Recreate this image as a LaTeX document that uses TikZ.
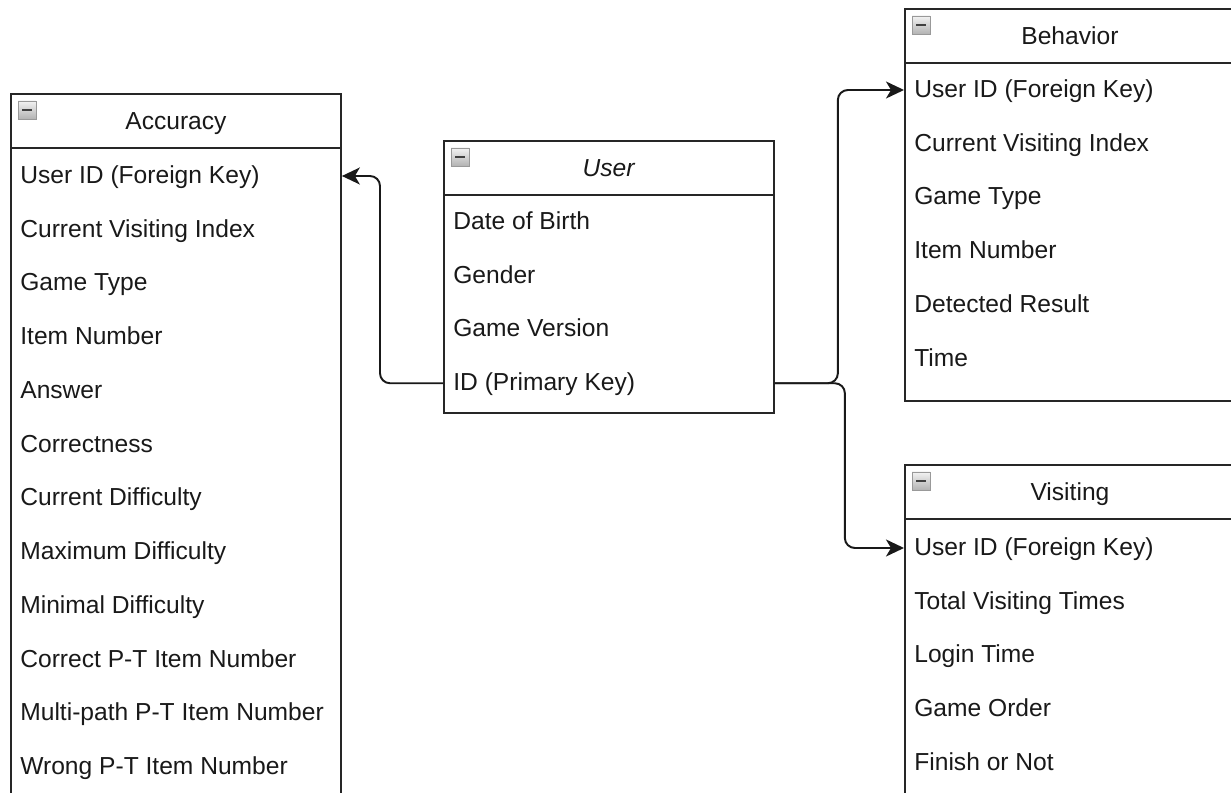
\documentclass[tikz,border=0pt]{standalone}
\usepackage{fontspec}
\setmainfont{Liberation Sans}
\usetikzlibrary{arrows.meta,shadings}

\begin{document}
\begin{tikzpicture}[x=0.02cm,y=-0.02cm,
	head/.style={draw=black!85,line width=1.1pt,rectangle,anchor=north west,inner sep=0,minimum width=6.6cm,minimum height=1.08cm,text height=0.96em,text depth=0pt,font=\fontsize{14}{16}\selectfont,text=black!90},
	body/.style={draw=black!85,line width=1.1pt,rectangle,anchor=north west,inner sep=0,minimum width=6.6cm},
	field/.style={anchor=west,inner sep=0,text height=0.716em,text depth=0pt,font=\fontsize{14}{16}\selectfont,text=black!90},
	fold/.style={draw=gray!80,line width=0.5pt,top color=gray!10,bottom color=gray!60,inner sep=0,minimum size=0.36cm},
	link/.style={line width=1.1pt,draw=black!90,rounded corners=0.2cm,-{Stealth[length=0.36cm,width=0.34cm,inset=0.1cm]}}]
	\useasboundingbox (0,0) rectangle (1231,793);
	\clip (0,0) rectangle (1231,793);

	% Accuracy
	\node (accbody) [body,minimum height=14cm] at (10,147) {};
	\node (acchead) [head] at (10,93) {Accuracy};
	\node (accfold) [fold] at (27,110) {\color{black!75}\rule{0.2cm}{0.05cm}};
	\foreach \t [count=\i] in {User ID (Foreign Key),Current Visiting Index,Game Type,Item Number,Answer,Correctness,Current Difficulty,Maximum Difficulty,Minimal Difficulty,Correct P-T Item Number,Multi-path P-T Item Number,Wrong P-T Item Number}
		\node (acc\i) [field] at (20,177+53.75*\i-53.75) {\t};

	% User
	\node (usrbody) [body,minimum height=4.36cm] at (443,194) {};
	\node (usrhead) [head] at (443,140) {\textit{User}};
	\node (usrfold) [fold] at (460,157) {\color{black!75}\rule{0.2cm}{0.05cm}};
	\foreach \t [count=\i] in {Date of Birth,Gender,Game Version,ID (Primary Key)}
		\node (usr\i) [field] at (453,223+53.75*\i-53.75) {\t};

	% Behavior
	\node (behbody) [body,minimum height=6.76cm] at (904,62) {};
	\node (behhead) [head] at (904,8) {Behavior};
	\node (behfold) [fold] at (921,25) {\color{black!75}\rule{0.2cm}{0.05cm}};
	\foreach \t [count=\i] in {User ID (Foreign Key),Current Visiting Index,Game Type,Item Number,Detected Result,Time}
		\node (beh\i) [field] at (914,91+53.75*\i-53.75) {\t};

	% Visiting
	\node (visbody) [body,minimum height=8cm] at (904,518) {};
	\node (vishead) [head] at (904,464) {Visiting};
	\node (visfold) [fold] at (921,481) {\color{black!75}\rule{0.2cm}{0.05cm}};
	\foreach \t [count=\i] in {User ID (Foreign Key),Total Visiting Times,Login Time,Game Order,Finish or Not}
		\node (vis\i) [field] at (914,549+53.75*\i-53.75) {\t};

	\draw[link] (usrbody.west |- usr4) ++(0,-1) -- ++(-63,0) |- ([yshift=0.02cm]accbody.east |- acc1);
	\draw[link] (usrbody.east |- usr4) ++(0,-1) -- ++(63,0) |- ([yshift=0.02cm]behbody.west |- beh1);
	\draw[link] (usrbody.east |- usr4) ++(0,-1) -- ++(70,0) |- ([yshift=0.02cm]visbody.west |- vis1);
\end{tikzpicture}
\end{document}
